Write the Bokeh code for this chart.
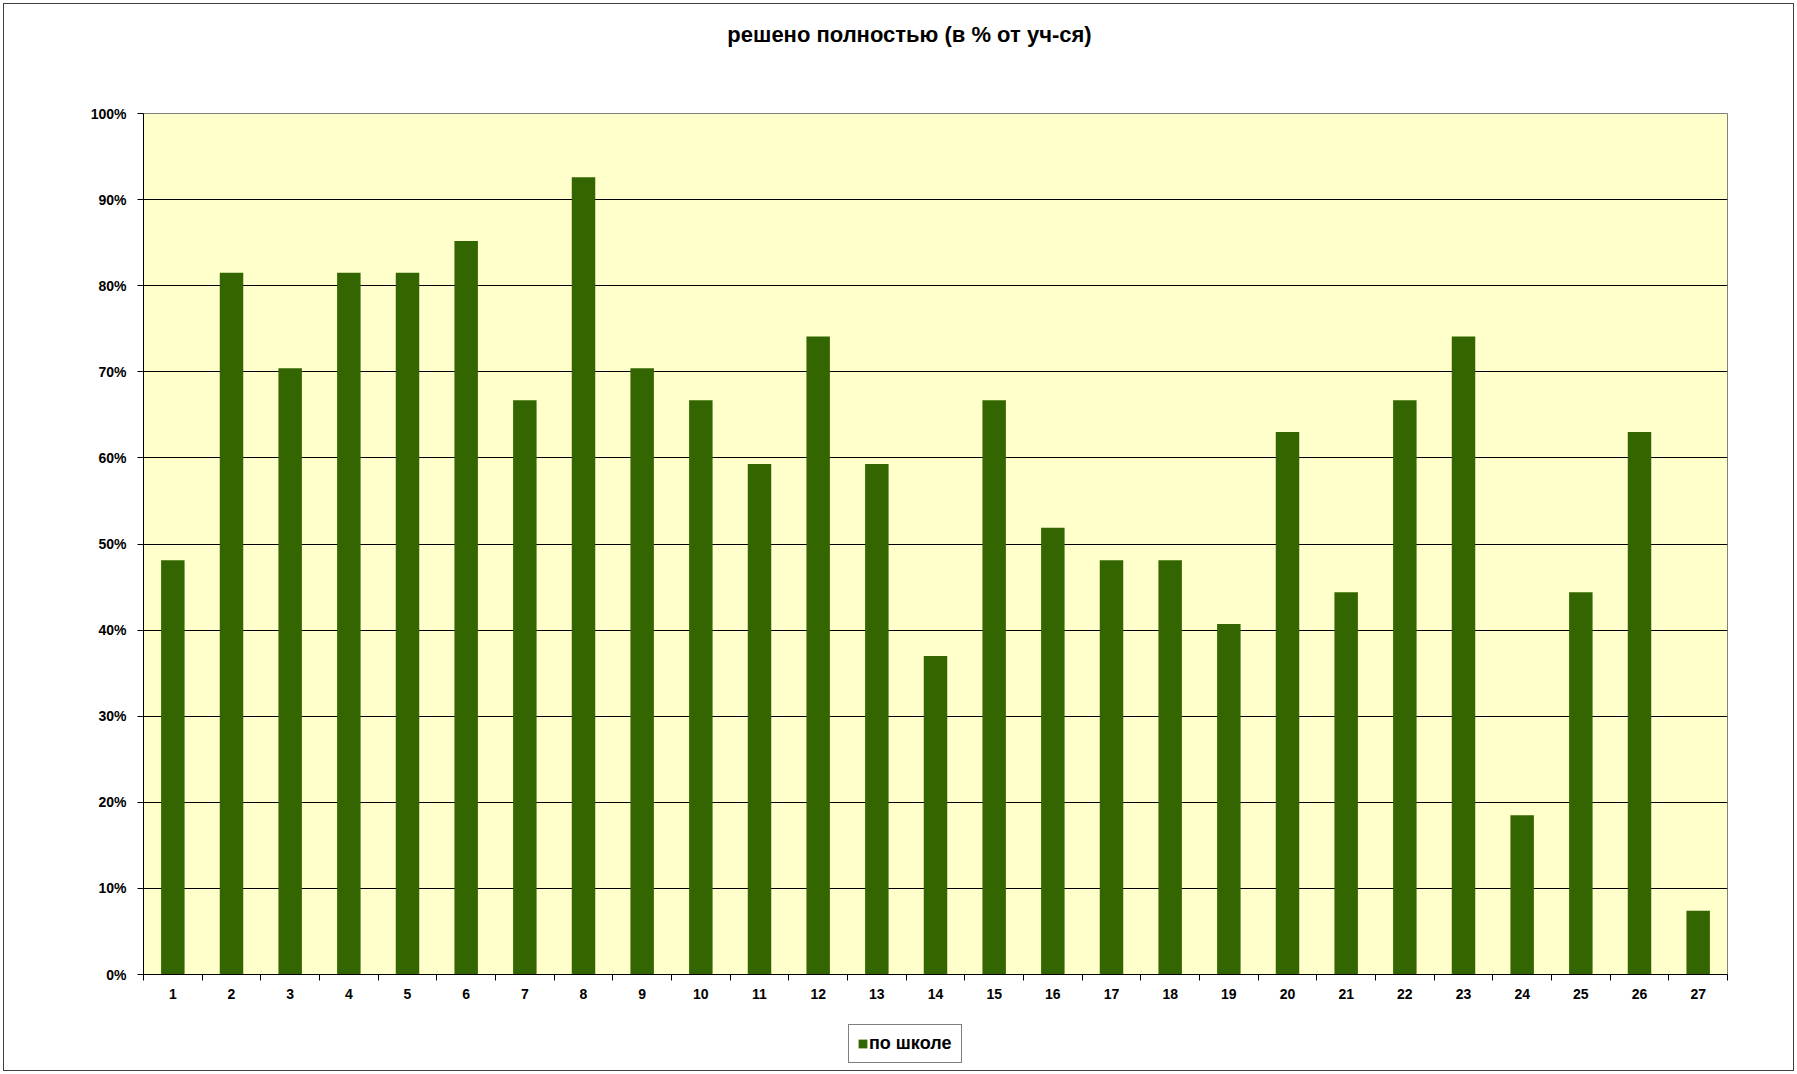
from bokeh.plotting import figure
from bokeh.layouts import column
from bokeh.models import (ColumnDataSource, FixedTicker, PrintfTickFormatter, Range1d,
                          Legend, LegendItem, Label)
from bokeh.embed import file_html
from bokeh.resources import INLINE

# ---- data ----
categories = [str(i) for i in range(1, 28)]
values = [48.1, 81.5, 70.4, 81.5, 81.5, 85.2, 66.7, 92.6, 70.4, 66.7,
          59.3, 74.1, 59.3, 37.0, 66.7, 51.9, 48.1, 48.1, 40.7, 63.0,
          44.4, 66.7, 74.1, 18.5, 44.4, 63.0, 7.4]
y_ticks = [0, 10, 20, 30, 40, 50, 60, 70, 80, 90, 100]
title_text = "решено полностью (в % от уч-ся)"
series_name = "по школе"

FONT = "Liberation Sans"
BAR = "#336600"
W = 1789           # inner width (inside the chart border)
H_TOP, H_MAIN, H_BOT = 96, 915, 55
ML, MR = 139, 66   # left / right borders shared by all strips

xpos = [i + 1 for i in range(len(categories))]
src = ColumnDataSource(dict(x=xpos, top=values, cat=categories))

# ---- title strip ----
p_top = figure(width=W, height=H_TOP, output_backend="svg", toolbar_location=None,
               x_range=Range1d(ML, W - MR), y_range=Range1d(H_TOP, 0),
               x_axis_location=None, y_axis_location=None, min_border=0,
               min_border_left=ML, min_border_right=MR)
p_top.outline_line_color = None
p_top.grid.grid_line_color = None
p_top.background_fill_color = "white"
p_top.border_fill_color = "white"
p_top.add_layout(Label(x=905, y=30, text=title_text, text_font=FONT,
                       text_font_size="22px", text_font_style="bold",
                       text_color="black", text_align="center",
                       text_baseline="middle"))

# ---- main chart ----
p = figure(width=W, height=H_MAIN, output_backend="svg", toolbar_location=None,
           x_range=Range1d(0.5, len(categories) + 0.5), y_range=Range1d(0, 100),
           min_border_left=ML, min_border_right=MR, min_border_top=13,
           min_border_bottom=41)
p.background_fill_color = "#FFFFCC"
p.border_fill_color = "white"
p.outline_line_color = "#808080"
p.outline_line_width = 1

r = p.vbar(x="x", top="top", bottom=0, width=0.4, source=src,
           fill_color=BAR, line_color=None)

p.yaxis.ticker = FixedTicker(ticks=y_ticks)
p.yaxis.formatter = PrintfTickFormatter(format="%d%%")
p.yaxis.major_label_text_font = FONT
p.yaxis.major_label_text_font_size = "14px"
p.yaxis.major_label_text_font_style = "bold"
p.yaxis.major_label_text_color = "black"
p.yaxis.major_tick_out = 6
p.yaxis.major_tick_in = 0
p.yaxis.minor_tick_line_color = None
p.yaxis.axis_line_color = "black"
p.yaxis.major_tick_line_color = "black"
p.yaxis.major_label_standoff = 11

p.xaxis.ticker = FixedTicker(ticks=xpos, minor_ticks=[x - 0.5 for x in xpos] + [len(xpos) + 0.5])
p.xaxis.major_label_overrides = {x: c for x, c in zip(xpos, categories)}
p.xaxis.major_tick_line_color = None
p.xaxis.minor_tick_line_color = "black"
p.xaxis.minor_tick_out = 6
p.xaxis.minor_tick_in = 0
p.xaxis.axis_line_color = "black"
p.xaxis.major_label_text_font = FONT
p.xaxis.major_label_text_font_size = "14px"
p.xaxis.major_label_text_font_style = "bold"
p.xaxis.major_label_text_color = "black"
p.xaxis.major_label_standoff = 8

p.xgrid.grid_line_color = None
p.ygrid.ticker = FixedTicker(ticks=y_ticks[:-1])
p.ygrid.grid_line_color = "black"
p.ygrid.grid_line_width = 1

# ---- legend strip ----
p_bot = figure(width=W, height=H_BOT, output_backend="svg", toolbar_location=None,
               x_range=Range1d(1000, 1001), y_range=Range1d(1000, 1001),
               x_axis_location=None, y_axis_location=None, min_border=0,
               min_border_left=ML, min_border_right=MR)
p_bot.outline_line_color = None
p_bot.grid.grid_line_color = None
p_bot.background_fill_color = "white"
p_bot.border_fill_color = "white"
# legend key: same series, far outside this strip's visible range
key = p_bot.vbar(x="x", top="top", bottom=0, width=0.4, source=src,
                 fill_color=BAR, line_color=None)
legend = Legend(items=[LegendItem(label=series_name, renderers=[key])],
                location=(705, 7), orientation="horizontal",
                border_line_color="black", border_line_width=1,
                background_fill_color="white", background_fill_alpha=1,
                label_text_font=FONT, label_text_font_size="18px",
                label_text_font_style="bold", label_text_color="black",
                glyph_width=11, glyph_height=11, label_standoff=1,
                label_width=84, padding=8, margin=0, spacing=0)
p_bot.add_layout(legend, "center")

layout = column(p_top, p, p_bot, spacing=0)
layout.styles = {"border": "1px solid #404040", "margin": "3px 0 0 3px"}

open("out.html", "w").write(file_html(layout, INLINE))
